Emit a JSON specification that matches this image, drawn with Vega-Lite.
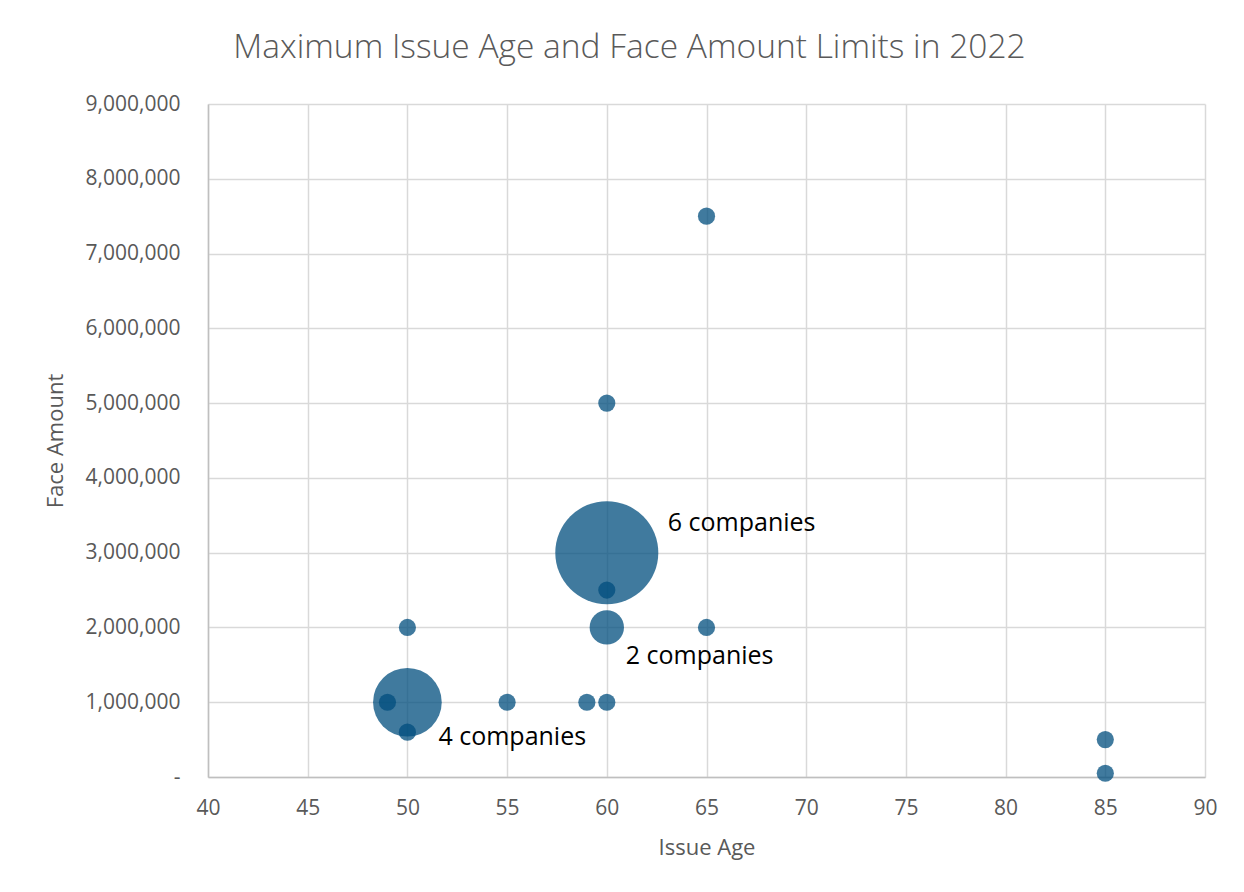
{
  "$schema": "https://vega.github.io/schema/vega-lite/v6.json",
  "autosize": {"type": "none"},
  "width": 997,
  "height": 673,
  "padding": {"left": 208, "top": 104, "right": 39, "bottom": 115},
  "background": "white",
  "title": {
    "text": "Maximum Issue Age and Face Amount Limits in 2022",
    "anchor": "middle",
    "frame": "group",
    "dx": -77,
    "offset": 28,
    "font": "Open Sans",
    "fontWeight": 300,
    "fontSize": 33.5,
    "color": "#595959"
  },
  "config": {
    "view": {"stroke": null},
    "axis": {
      "labelFont": "Open Sans",
      "labelFontSize": 21,
      "labelColor": "#595959",
      "titleFont": "Open Sans",
      "titleFontSize": 22,
      "titleFontWeight": "normal",
      "titleColor": "#595959",
      "gridColor": "#d9d9d9",
      "gridWidth": 1.5,
      "domainColor": "#bfbfbf",
      "domainWidth": 1.5,
      "ticks": false
    }
  },
  "data": {
    "values": [
      {"age": 60, "amount": 3000000, "companies": 6},
      {"age": 50, "amount": 1000000, "companies": 4},
      {"age": 60, "amount": 2000000, "companies": 2},
      {"age": 65, "amount": 7500000, "companies": 1},
      {"age": 60, "amount": 5000000, "companies": 1},
      {"age": 60, "amount": 2500000, "companies": 1},
      {"age": 50, "amount": 2000000, "companies": 1},
      {"age": 65, "amount": 2000000, "companies": 1},
      {"age": 49, "amount": 1000000, "companies": 1},
      {"age": 50, "amount": 600000, "companies": 1},
      {"age": 55, "amount": 1000000, "companies": 1},
      {"age": 59, "amount": 1000000, "companies": 1},
      {"age": 60, "amount": 1000000, "companies": 1},
      {"age": 85, "amount": 500000, "companies": 1},
      {"age": 85, "amount": 50000, "companies": 1}
    ]
  },
  "encoding": {
    "x": {
      "field": "age",
      "type": "quantitative",
      "title": "Issue Age",
      "scale": {"domain": [40, 90], "nice": false, "zero": false},
      "axis": {
        "values": [40, 45, 50, 55, 60, 65, 70, 75, 80, 85, 90],
        "labelFlush": false,
        "labelPadding": 20,
        "titlePadding": 19
      }
    },
    "y": {
      "field": "amount",
      "type": "quantitative",
      "title": "Face Amount",
      "scale": {"domain": [0, 9000000], "nice": false},
      "axis": {
        "values": [0, 1000000, 2000000, 3000000, 4000000, 5000000, 6000000, 7000000, 8000000, 9000000],
        "labelExpr": "datum.value == 0 ? '-\u00a0\u00a0' : format(datum.value, ',')",
        "labelFlush": false,
        "labelPadding": 28,
        "titlePadding": 18
      }
    }
  },
  "layer": [
    {
      "mark": {"type": "circle", "color": "#004e7e", "opacity": 0.75},
      "encoding": {
        "size": {
          "field": "companies",
          "type": "quantitative",
          "scale": {"type": "pow", "exponent": 2, "domain": [0, 6], "range": [0, 10609]},
          "legend": null
        }
      }
    },
    {
      "transform": [{"filter": "datum.companies == 6"}],
      "mark": {"type": "text", "align": "left", "baseline": "middle", "dx": 61, "dy": -30, "font": "Open Sans", "fontSize": 25, "color": "#000000"},
      "encoding": {"text": {"value": "6 companies"}}
    },
    {
      "transform": [{"filter": "datum.companies == 2"}],
      "mark": {"type": "text", "align": "left", "baseline": "middle", "dx": 19, "dy": 29, "font": "Open Sans", "fontSize": 25, "color": "#000000"},
      "encoding": {"text": {"value": "2 companies"}}
    },
    {
      "transform": [{"filter": "datum.companies == 4"}],
      "mark": {"type": "text", "align": "left", "baseline": "middle", "dx": 31, "dy": 35, "font": "Open Sans", "fontSize": 25, "color": "#000000"},
      "encoding": {"text": {"value": "4 companies"}}
    }
  ]
}
